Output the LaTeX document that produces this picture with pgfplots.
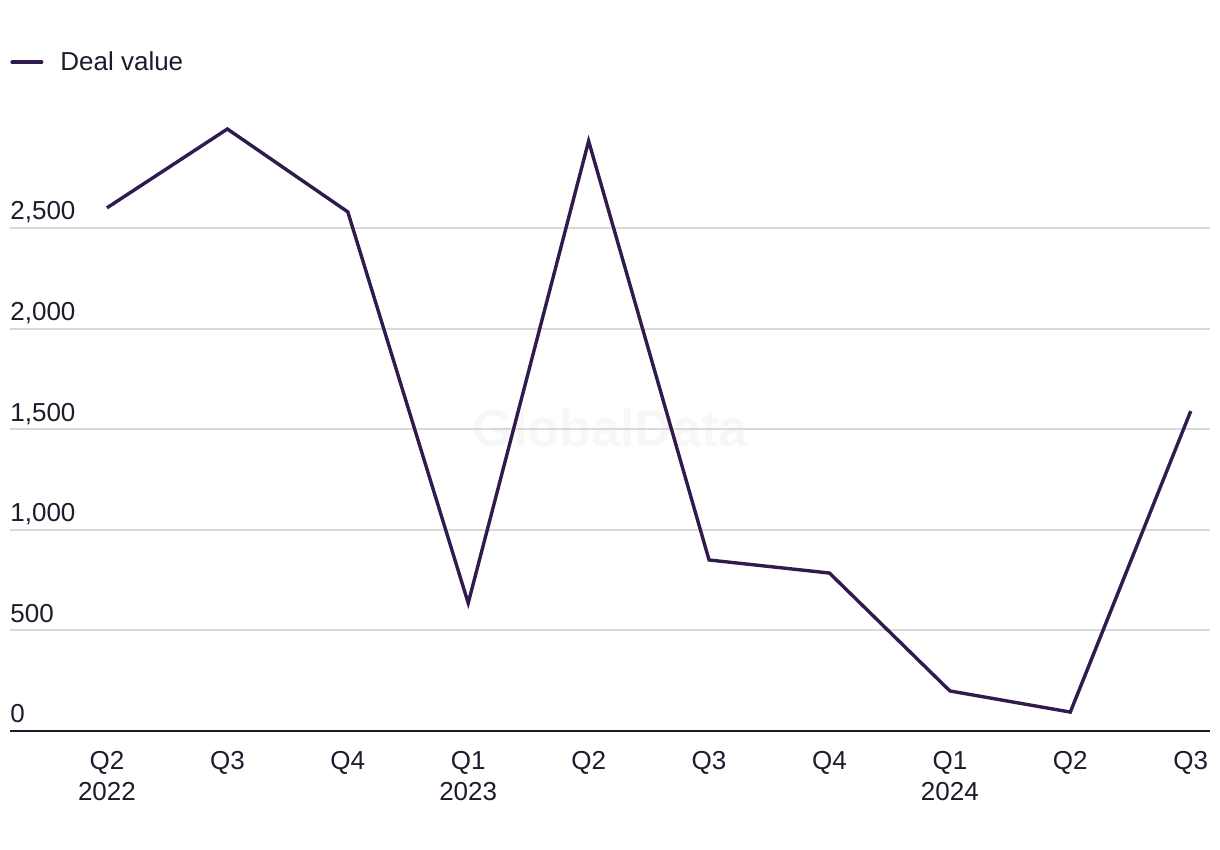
\documentclass[border=0pt]{standalone}
\usepackage{fontspec}
\setmainfont{Liberation Sans}
\usepackage{pgfplots}
\pgfplotsset{compat=1.18}

\definecolor{dealline}{HTML}{2F1B4E}
\definecolor{txt}{HTML}{1C1C2C}
\definecolor{gridc}{HTML}{D9D9D9}
\definecolor{wmark}{HTML}{F7F7F7}

\begin{document}
\begin{tikzpicture}
% page = 1220x850 px at 0.5pt per px, axis corner at px (10,731)
\useasboundingbox (-5pt,-59.5pt) rectangle (605pt,365.5pt);
\node[font=\fontsize{26}{30}\selectfont\bfseries, text=wmark] at (300pt,151.5pt) {GlobalData};
\begin{axis}[
    scale only axis,
    width=600pt, height=301.8pt,
    xmin=-0.805, xmax=9.16,
    ymin=0, ymax=3000,
    clip=false,
    axis lines=left,
    axis line style={-},
    y axis line style={draw=none},
    x axis line style={draw=txt, line width=1pt},
    major tick length=0pt,
    ymajorgrids,
    grid style={gridc, line width=1pt},
    ytick={0,500,1000,1500,2000,2500},
    yticklabel style={anchor=base west, inner sep=0pt, yshift=4pt},
    /pgf/number format/assume math mode=true,
    /pgf/number format/1000 sep={,},
    xtick={0,...,9},
    xticklabels={{Q2\\2022},Q3,Q4,{Q1\\2023},Q2,Q3,Q4,{Q1\\2024},Q2,Q3},
    xticklabel style={align=center, inner sep=0pt, yshift=-10pt},
    tick label style={font=\fontsize{13}{15.5}\selectfont, text=txt},
    legend style={at={(axis description cs:0,1)}, anchor=west, yshift=32.5pt,
        draw=none, fill=none, inner sep=0pt,
        font=\fontsize{13}{15}\selectfont, text=txt},
    legend image post style={line width=2pt, line cap=round},
    legend image code/.code={
        \draw (0.5pt,0pt) -- (15pt,0pt);
        \path (21.5pt,0pt);},
]
\addplot[dealline, line width=1.7pt, line join=miter] coordinates {
    (0,2600) (1,2992) (2,2580) (3,636) (4,2932)
    (5,850) (6,785) (7,199) (8,94) (9,1590)
};
\addlegendentry{Deal value}
\end{axis}
\end{tikzpicture}
\end{document}
